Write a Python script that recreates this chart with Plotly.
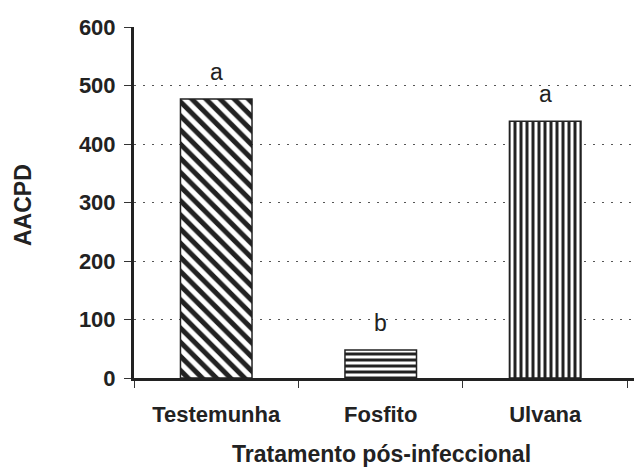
import plotly.graph_objects as go

categories = ["Testemunha", "Fosfito", "Ulvana"]
values = [477, 48, 439]
letters = ["a", "b", "a"]
patterns = ["\\", "-", "|"]
y_ticks = [0, 100, 200, 300, 400, 500, 600]

FONT = "Liberation Sans, Arial, sans-serif"
INK = "#222"

fig = go.Figure()
fig.add_trace(go.Bar(
    x=categories, y=values, width=0.435,
    marker=dict(
        color="white",
        line=dict(color=INK, width=1.5),
        pattern=dict(shape=patterns, fgcolor=INK, bgcolor="white",
                     size=[10, 6, 6], solidity=0.5, fillmode="replace"),
    ),
))

for c, v, t in zip(categories, values, letters):
    fig.add_annotation(x=c, y=v, text=t, showarrow=False, yanchor="bottom",
                       yshift=12, font=dict(family=FONT, size=23, color=INK))

fig.add_annotation(xref="paper", yref="paper", x=-0.215, y=0.493, text="<b>AACPD</b>",
                   textangle=-90, showarrow=False, xanchor="center", yanchor="middle",
                   font=dict(family=FONT, size=23, color=INK))
fig.add_annotation(xref="paper", yref="paper", x=0.479, y=-0.215, yshift=-1,
                   text="<b>Tratamento pós-infeccional</b>", showarrow=False,
                   xanchor="center", yanchor="middle",
                   font=dict(family=FONT, size=23, color=INK))

fig.update_layout(
    width=642, height=468,
    margin=dict(l=126, r=0, t=19, b=98),
    paper_bgcolor="white", plot_bgcolor="white",
    showlegend=False,
    font=dict(family=FONT, color=INK),
    xaxis=dict(
        range=[-0.5, 2.637], tickson="boundaries", ticks="outside", ticklen=7,
        tickcolor="#333", tickwidth=1,
        showline=True, linecolor=INK, linewidth=3,
        showgrid=False,
        tickfont=dict(size=22, family=FONT, color=INK, weight="bold"),
        ticklabelstandoff=15,
    ),
    yaxis=dict(
        range=[0, 600], tickvals=y_ticks, ticks="outside", ticklen=7,
        tickcolor="#333", tickwidth=1,
        showline=True, linecolor=INK, linewidth=3,
        showgrid=True, gridcolor="#555", gridwidth=1, griddash="2px,7px",
        zeroline=False,
        tickfont=dict(size=22, family=FONT, color=INK, weight="bold"),
        ticklabelstandoff=4,
    ),
)

fig.write_html("out.html")
